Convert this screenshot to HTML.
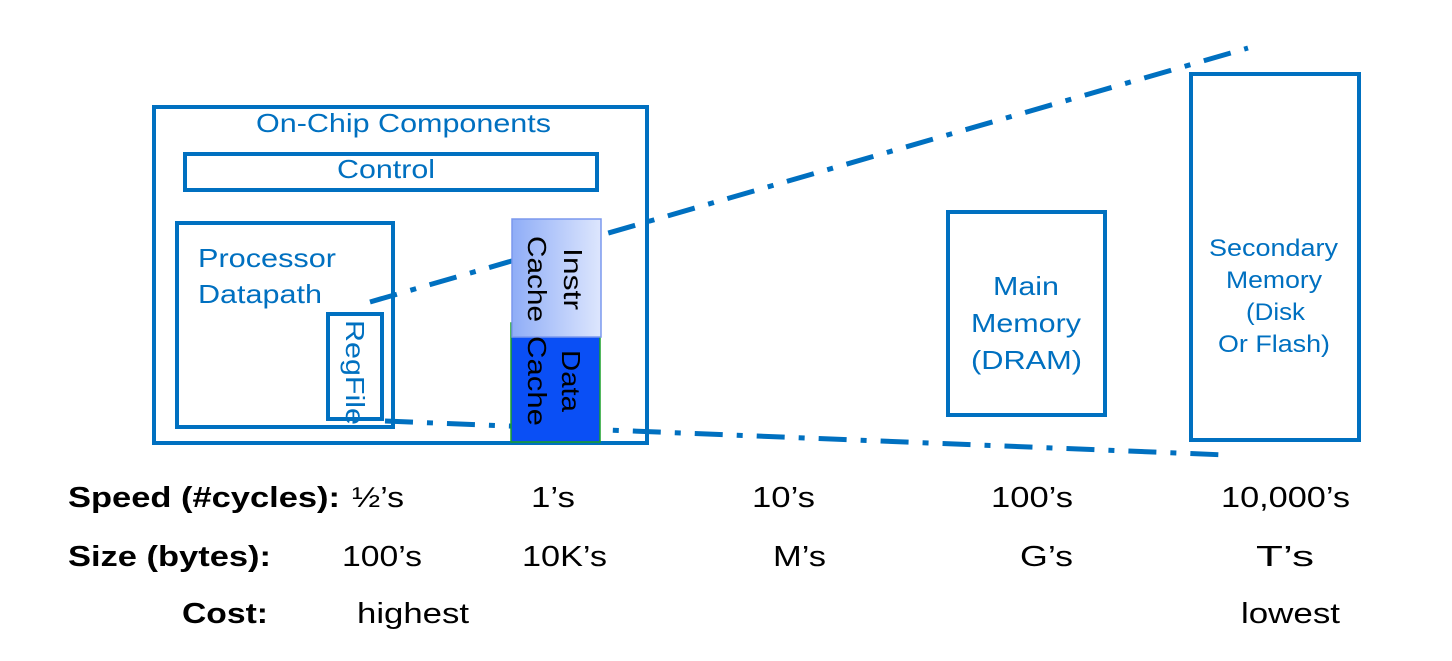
<!DOCTYPE html>
<html><head><meta charset="utf-8"><style>html,body{margin:0;padding:0;background:#fff}svg{display:block}</style></head>
<body>
<svg width="1452" height="661" viewBox="0 0 1452 661" xmlns="http://www.w3.org/2000/svg" font-family="Liberation Sans, Arial, sans-serif">
<defs>
<linearGradient id="g1" x1="0" x2="1" y1="0" y2="0"><stop offset="0" stop-color="#8fadf7"/><stop offset="1" stop-color="#dde6fd"/></linearGradient>
</defs>
<g fill="none" stroke="#0070c0" stroke-width="4">
<rect x="154" y="107" width="493" height="336"/>
<rect x="185" y="154" width="412" height="36"/>
<rect x="177" y="223" width="216" height="204"/>
<rect x="328" y="314" width="54" height="105"/>
<rect x="948" y="212" width="157" height="203"/>
<rect x="1191" y="74" width="168" height="366"/>
</g>
<g stroke="#0070c0" stroke-width="5" stroke-dasharray="28 14 6 14" fill="none">
<line x1="370" y1="302" x2="1248" y2="48"/>
<line x1="385" y1="421" x2="1226" y2="455"/>
</g>
<rect x="511" y="323" width="89" height="119" fill="#0a4ff5" stroke="#1aa028" stroke-width="1.5"/>
<rect x="512" y="219" width="89" height="118" fill="url(#g1)" stroke="#7b98ee" stroke-width="1.5"/>
<g fill="#0070c0" font-size="26" lengthAdjust="spacingAndGlyphs">
<text x="256" y="132" textLength="295" lengthAdjust="spacingAndGlyphs">On-Chip Components</text>
<text x="337" y="178" textLength="98" lengthAdjust="spacingAndGlyphs">Control</text>
<text x="993" y="295" textLength="66" lengthAdjust="spacingAndGlyphs">Main</text>
<text x="971" y="332" textLength="110" lengthAdjust="spacingAndGlyphs">Memory</text>
<text x="971" y="369" textLength="111" lengthAdjust="spacingAndGlyphs">(DRAM)</text>
<text x="198" y="267" textLength="138" lengthAdjust="spacingAndGlyphs">Processor</text>
<text x="198" y="303" textLength="124" lengthAdjust="spacingAndGlyphs">Datapath</text>
</g>
<g fill="#0070c0" font-size="24">
<text x="1209" y="256" textLength="129" lengthAdjust="spacingAndGlyphs">Secondary</text>
<text x="1226" y="288" textLength="96" lengthAdjust="spacingAndGlyphs">Memory</text>
<text x="1246" y="320" textLength="59" lengthAdjust="spacingAndGlyphs">(Disk</text>
<text x="1218" y="352" textLength="112" lengthAdjust="spacingAndGlyphs">Or Flash)</text>
</g>
<text transform="translate(346,320) rotate(90)" fill="#0070c0" font-size="26" textLength="105" lengthAdjust="spacingAndGlyphs">RegFile</text>
<g font-size="26" fill="#000">
<text transform="translate(564,248) rotate(90)" textLength="62" lengthAdjust="spacingAndGlyphs">Instr</text>
<text transform="translate(528,236) rotate(90)" textLength="86" lengthAdjust="spacingAndGlyphs">Cache</text>
<text transform="translate(562,350) rotate(90)" textLength="62" lengthAdjust="spacingAndGlyphs">Data</text>
<text transform="translate(528,336) rotate(90)" textLength="90" lengthAdjust="spacingAndGlyphs">Cache</text>
</g>
<g font-size="29" fill="#000">
<text x="68" y="507" font-weight="bold" textLength="272" lengthAdjust="spacingAndGlyphs">Speed (#cycles):</text>
<text x="68" y="566" font-weight="bold" textLength="203" lengthAdjust="spacingAndGlyphs">Size (bytes):</text>
<text x="182" y="623" font-weight="bold" textLength="86" lengthAdjust="spacingAndGlyphs">Cost:</text>
<text x="352" y="507" textLength="52" lengthAdjust="spacingAndGlyphs">½’s</text>
<text x="531" y="507" textLength="44" lengthAdjust="spacingAndGlyphs">1’s</text>
<text x="752" y="507" textLength="63" lengthAdjust="spacingAndGlyphs">10’s</text>
<text x="991" y="507" textLength="82" lengthAdjust="spacingAndGlyphs">100’s</text>
<text x="1221" y="507" textLength="129" lengthAdjust="spacingAndGlyphs">10,000’s</text>
<text x="342" y="566" textLength="80" lengthAdjust="spacingAndGlyphs">100’s</text>
<text x="522" y="566" textLength="85" lengthAdjust="spacingAndGlyphs">10K’s</text>
<text x="773" y="566" textLength="53" lengthAdjust="spacingAndGlyphs">M’s</text>
<text x="1020" y="566" textLength="53" lengthAdjust="spacingAndGlyphs">G’s</text>
<text x="1256" y="566" textLength="58" lengthAdjust="spacingAndGlyphs">T’s</text>
<text x="357" y="623" textLength="112" lengthAdjust="spacingAndGlyphs">highest</text>
<text x="1241" y="623" textLength="99" lengthAdjust="spacingAndGlyphs">lowest</text>
</g>
</svg>
</body></html>
